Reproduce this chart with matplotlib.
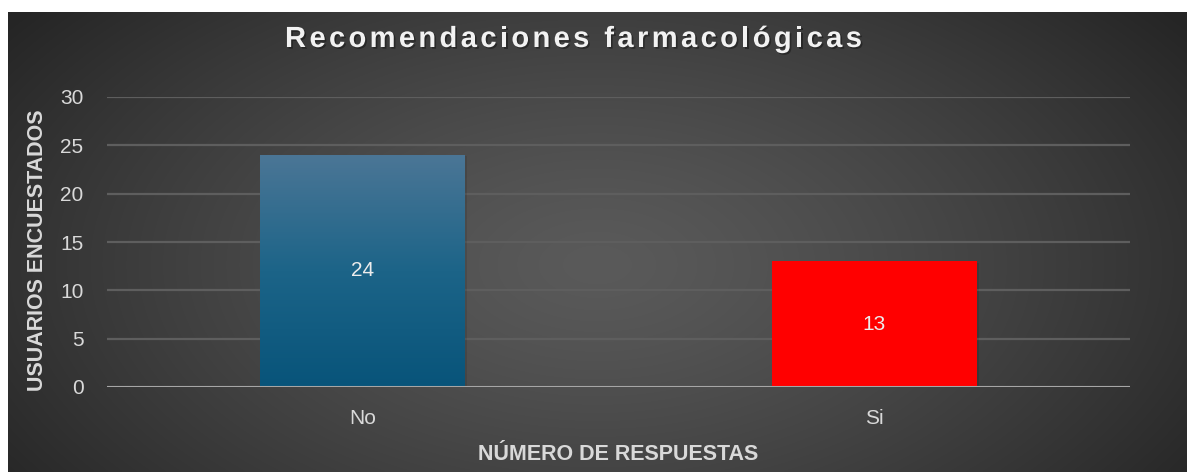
import numpy as np
import matplotlib
matplotlib.use("Agg")
import matplotlib.pyplot as plt
from matplotlib import patheffects as pe
from matplotlib.colors import LinearSegmentedColormap

categories = ["No", "Si"]
values = [24, 13]
yticks = [0, 5, 10, 15, 20, 25, 30]
title = "Recomendaciones farmacológicas"
xlabel = "NÚMERO DE RESPUESTAS"
ylabel = "USUARIOS ENCUESTADOS"

W, H, DPI = 1187, 472, 100
plt.rcParams['font.family'] = ['Liberation Sans', 'DejaVu Sans']

fig = plt.figure(figsize=(W / DPI, H / DPI), dpi=DPI)
fig.patch.set_facecolor("white")

# background radial gradient panel
bx0, by_top = 8, 12
bg = fig.add_axes([bx0 / W, 0, 1 - bx0 / W, (H - by_top) / H])
bg.set_axis_off()
nx, ny = 600, 240
xx, yy = np.meshgrid(np.linspace(0, 1, nx), np.linspace(0, 1, ny))
r = np.sqrt(((xx - 0.5) / 0.62) ** 2 + ((yy - 0.55) / 0.9) ** 2)
r = np.clip(r, 0, 1)
c_center, c_edge = 0x5a / 255, 0x25 / 255
v = c_edge + (c_center - c_edge) * (1 - r ** 1.3)
img = np.dstack([v, v, v])
bg.imshow(img, extent=[0, 1, 0, 1], aspect='auto', interpolation='bicubic')
bg.set_xlim(0, 1); bg.set_ylim(0, 1)

# main axes
L, R, T, B = 107, 1130, 97, 387
ax = fig.add_axes([L / W, 1 - B / H, (R - L) / W, (B - T) / H])
ax.set_facecolor("none")
x = np.arange(len(categories))
bars = ax.bar(x, values, width=0.4, zorder=3)
ax.set_xlim(-0.5, len(categories) - 0.5)
ax.set_ylim(0, 30)
ax.set_yticks(yticks)
ax.set_xticks(x)
ax.set_xticklabels(categories)
for s in ax.spines.values():
    s.set_visible(False)
ax.grid(axis='y', color='#5e5e5e', linewidth=1.6, zorder=0)
ax.axhline(0, color='#a6a6a6', linewidth=2.2, zorder=4)
ax.tick_params(axis='both', length=0, colors='#d9d9d9', labelsize=15)
ax.tick_params(axis='y', pad=17)
ax.tick_params(axis='x', pad=16)

blue = LinearSegmentedColormap.from_list("b", ["#08547a", "#1c6488", "#4b7696"])
bar_colors = [None, "#ff0000"]
for b, col in zip(bars, bar_colors):
    b.set_path_effects([pe.SimplePatchShadow(offset=(1.5, -1), shadow_rgbFace='black', alpha=0.1), pe.Normal()])
    if col is None:
        b.set_facecolor('none')
        grad = np.linspace(0, 1, 256).reshape(-1, 1)
        im = ax.imshow(grad, cmap=blue, origin='lower', aspect='auto',
                       extent=[b.get_x(), b.get_x() + b.get_width(), 0, b.get_height()],
                       zorder=3.5)
        im.set_clip_path(b)
    else:
        b.set_facecolor(col)
ax.set_xlim(-0.5, len(categories) - 0.5)
ax.set_ylim(0, 30)

for b, val in zip(bars, values):
    ax.text(b.get_x() + b.get_width() / 2, val / 2, f"{val}", ha='center', va='center',
            color='#ececec', fontsize=15, zorder=5)

ax.set_xlabel(xlabel, fontsize=15.5, fontweight='bold', color='#d9d9d9', labelpad=11)
ax.set_ylabel(ylabel, fontsize=15.5, fontweight='bold', color='#d9d9d9', labelpad=9)
ax.yaxis.label.set_y(0.472)

# letter-spaced title
renderer = fig.canvas.get_renderer()
tfs = 21
def twidth(s):
    t = fig.text(0, 0, s, fontsize=tfs, fontweight='bold')
    w = t.get_window_extent(renderer).width
    t.remove()
    return w
bar_w = twidth('|')
full = twidth(title)
target_w = 577
spacing = (target_w - full) / (len(title) - 1)
cx, cy = 573.5, H - 39
x0 = cx - target_w / 2
for i, ch in enumerate(title):
    if ch == ' ':
        continue
    pos = (twidth(title[:i] + '|') - bar_w) if i > 0 else 0
    px = x0 + pos + i * spacing
    fig.text(px / W, cy / H, ch, fontsize=tfs, fontweight='bold', color='#f2f2f2',
             ha='left', va='center',
             path_effects=[pe.withSimplePatchShadow(offset=(1.2, -1.2), shadow_rgbFace='black', alpha=0.35)])

fig.savefig("out.png", dpi=DPI, facecolor=fig.get_facecolor())
